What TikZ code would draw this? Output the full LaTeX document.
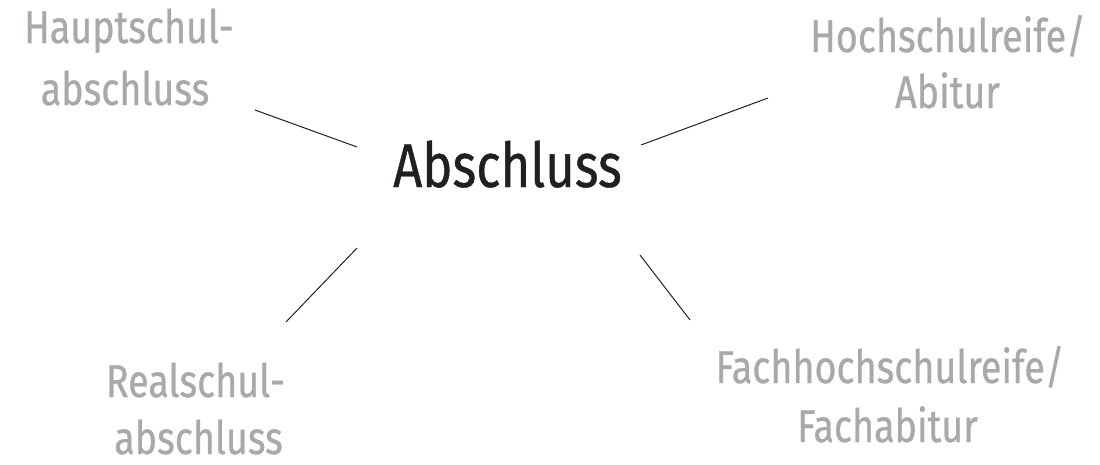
\documentclass[tikz,border=0pt]{standalone}
\usepackage{fontspec}
\setmainfont{Fira Sans}[FakeStretch=0.82,FakeBold=0.6]
\definecolor{lblgray}{HTML}{A7A9AC}
\definecolor{mainblack}{HTML}{231F20}
\begin{document}
\begin{tikzpicture}[x=1pt,y=-1pt,
  lbl/.style={anchor=base,inner sep=0pt,text=lblgray,font=\fontsize{46}{50}\selectfont},
  mainlbl/.style={anchor=base,inner sep=0pt,text=mainblack,font=\fontsize{62}{70}\selectfont},
  spoke/.style={draw=mainblack,line width=1pt}]
\useasboundingbox (0,0) rectangle (1100,464);
\node[mainlbl] (main) at (507.5,187) {Abschluss};
\node[lbl] (hs1) at (129,43) {Hauptschul-};
\node[lbl] (hs2) at (125,105) {abschluss};
\node[lbl] (hr1) at (948,52) {Hochschulreife/};
\node[lbl] (hr2) at (947.5,108) {Abitur};
\node[lbl] (rs1) at (195.5,397) {Realschul-};
\node[lbl] (rs2) at (198.5,454) {abschluss};
\node[lbl] (fh1) at (890,383) {Fachhochschulreife/};
\node[lbl] (fh2) at (887.5,442) {Fachabitur};
\coordinate (a1) at (357,147); \coordinate (a2) at (255,110);
\coordinate (b1) at (641,145); \coordinate (b2) at (768,98);
\coordinate (c1) at (357,248); \coordinate (c2) at (286,322);
\coordinate (d1) at (640,255); \coordinate (d2) at (690,320);
\draw[spoke] (a1) -- (a2);
\draw[spoke] (b1) -- (b2);
\draw[spoke] (c1) -- (c2);
\draw[spoke] (d1) -- (d2);
\end{tikzpicture}
\end{document}
